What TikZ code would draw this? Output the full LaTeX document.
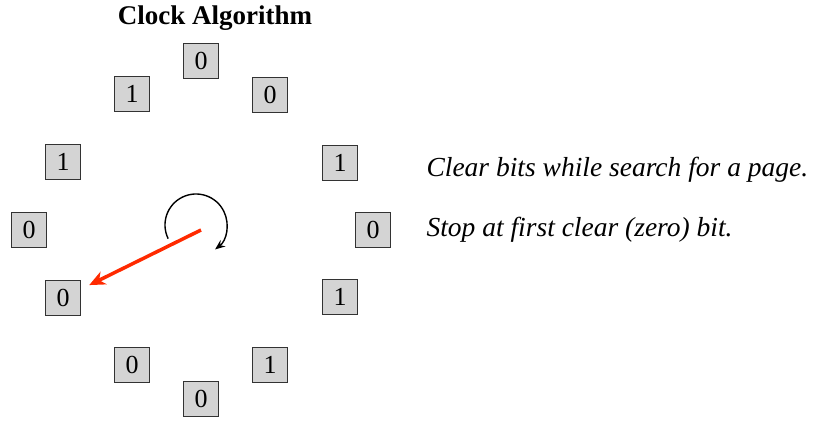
\documentclass[tikz,border=0pt]{standalone}
\usepackage{fontspec}
\setmainfont{Liberation Serif}
\usetikzlibrary{positioning,arrows.meta}
\definecolor{bitgray}{HTML}{D4D4D4}
\definecolor{handred}{HTML}{FF2A00}
\tikzset{
  bitbox/.style={draw=black!80, line width=1.3pt, fill=bitgray, minimum width=35pt, minimum height=35pt, inner sep=0pt, font=\fontsize{26}{28}\selectfont},
  clockhand/.style={draw=handred, line width=3.5pt, -{Stealth[length=16pt, width=14pt, inset=5pt]}, shorten >=9pt},
  sweep/.style={line width=1.4pt, -{Stealth[length=10pt, width=8pt]}},
  note/.style={anchor=west, font=\fontsize{27.5}{30}\selectfont\itshape},
  headline/.style={font=\fontsize{27}{30}\selectfont\bfseries}
}

\begin{document}
\begin{tikzpicture}[x=1pt, y=-1pt]
      \useasboundingbox (0,0) rectangle (816,430);
      \node[headline] (title) at (215,18) {Clock Algorithm};
      % the ring of use bits, clockwise from the top
      \node[bitbox] (b1) at (201,61) {0};
      \node[bitbox] (b2) at (270,95) {0};
      \node[bitbox] (b3) at (340,163) {1};
      \node[bitbox] (b4) at (373,230) {0};
      \node[bitbox] (b5) at (340,297) {1};
      \node[bitbox] (b6) at (270,365) {1};
      \node[bitbox] (b7) at (201,399) {0};
      \node[bitbox] (b8) at (132,365) {0};
      \node[bitbox] (b9) at (63,298) {0};
      \node[bitbox] (b10) at (29,230) {0};
      \node[bitbox] (b11) at (63,162) {1};
      \node[bitbox] (b12) at (132,94) {1};
      \coordinate (hub) at (201,230);
      \coordinate (spin) at (196,225);
      \draw[clockhand] (hub) -- (b9);
      \draw[sweep] ([shift={(154:31)}]spin) arc[start angle=154, end angle=412, radius=31];
      \node[note] (clear) at (423,170) {Clear bits while search for a page.};
      \node[note] (stop) at (423,230) {Stop at first clear (zero) bit.};
    \end{tikzpicture}
\end{document}
